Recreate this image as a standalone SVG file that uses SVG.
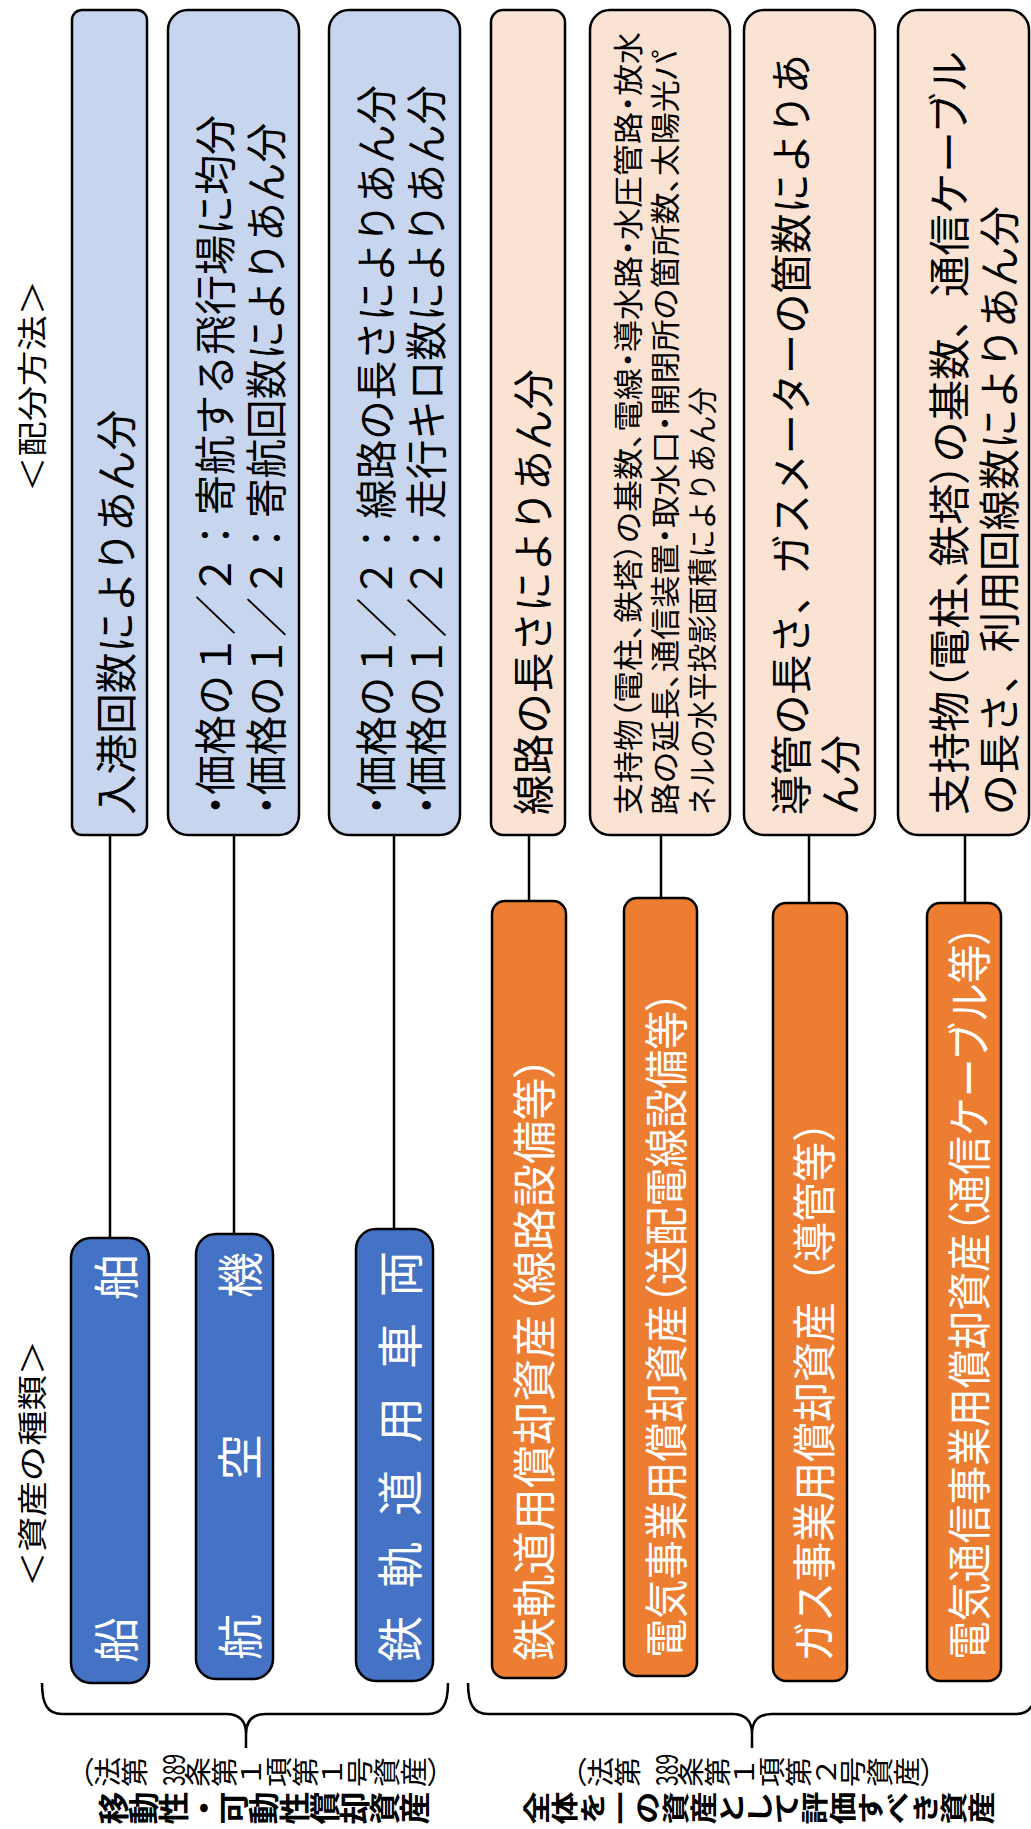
<svg xmlns="http://www.w3.org/2000/svg" width="1031" height="1829" viewBox="0 0 1031 1829">
<style>
  text { font-family: "Noto Sans CJK JP", "Noto Sans", sans-serif; dominant-baseline: central; }
  .box { stroke: #000; stroke-width: 2.5; }
  .lb { fill: #C7D6EE; }
  .lo { fill: #FBE3D4; }
  .db { fill: #4472C4; }
  .do { fill: #ED7D31; }
  .t42 { font-size: 42px; fill: #000; }
  .t30 { font-size: 30px; fill: #000; }
  .w46 { font-size: 46px; fill: #fff; text-anchor: middle; }
  .w44 { font-size: 44px; fill: #fff; }
  .side { font-size: 30px; fill: #000; }
  .vsm { font-size: 30px; fill: #000; writing-mode: vertical-rl; }
  .vbd { font-size: 33px; fill: #000; font-weight: 700; writing-mode: vertical-rl; }
  .num { font-size: 31px; fill: #000; text-anchor: middle; }
  .p { font-feature-settings: "palt"; }
  .conn line, .conn path { stroke: #000; stroke-width: 2.5; fill: none; }
</style>

<g id="label-haibun">
  <text class="side" transform="rotate(-90)" x="-492" y="30" textLength="212" lengthAdjust="spacingAndGlyphs">＜配分方法＞</text>
</g>
<g id="label-shurui">
  <text class="side" transform="rotate(-90)" x="-1587" y="30" textLength="247" lengthAdjust="spacingAndGlyphs">＜資産の種類＞</text>
</g>

<g class="conn" id="connectors">
  <line x1="110" y1="835" x2="110" y2="1238"/>
  <line x1="234" y1="835" x2="234" y2="1234"/>
  <line x1="394" y1="835" x2="394" y2="1229"/>
  <line x1="529" y1="835" x2="529" y2="901"/>
  <line x1="661" y1="835" x2="661" y2="898"/>
  <line x1="809" y1="835" x2="809" y2="903"/>
  <line x1="965" y1="835" x2="965" y2="903"/>
  <path d="M42,1683 C42,1705 48,1714 62,1714 L226,1714 Q246,1714 246,1734 L246,1748 M246,1734 Q246,1714 266,1714 L428,1714 C442,1714 448,1705 448,1683"/>
  <path d="M468,1683 C468,1705 474,1714 488,1714 L732,1714 Q752,1714 752,1734 L752,1748 M752,1734 Q752,1714 772,1714 L1016,1714 C1030,1714 1036,1705 1036,1683"/>
</g>

<g id="m-nyuko">
  <rect class="box lb" x="72" y="10" width="75" height="825" rx="10"/>
  <text class="t42" transform="rotate(-90)" x="-815" y="113" textLength="405" lengthAdjust="spacingAndGlyphs">入港回数によりあん分</text>
</g>
<g id="m-kouku">
  <rect class="box lb" x="168" y="10" width="131" height="825" rx="20"/>
  <text class="t42" transform="rotate(-90)" x="-815" y="212" textLength="700" lengthAdjust="spacingAndGlyphs"><tspan class="p">・</tspan>価格の１／２：寄航する飛行場に均分</text>
  <text class="t42" transform="rotate(-90)" x="-815" y="263" textLength="692" lengthAdjust="spacingAndGlyphs"><tspan class="p">・</tspan>価格の１／２：寄航回数によりあん分</text>
</g>
<g id="m-sharyo">
  <rect class="box lb" x="329" y="10" width="131" height="825" rx="20"/>
  <text class="t42" transform="rotate(-90)" x="-815" y="373" textLength="730" lengthAdjust="spacingAndGlyphs"><tspan class="p">・</tspan>価格の１／２：線路の長さによりあん分</text>
  <text class="t42" transform="rotate(-90)" x="-815" y="423" textLength="730" lengthAdjust="spacingAndGlyphs"><tspan class="p">・</tspan>価格の１／２：走行キロ数によりあん分</text>
</g>
<g id="m-senro">
  <rect class="box lo" x="491" y="10" width="74" height="825" rx="12"/>
  <text class="t42" transform="rotate(-90)" x="-815" y="530" textLength="446" lengthAdjust="spacingAndGlyphs">線路の長さによりあん分</text>
</g>
<g id="m-denki">
  <rect class="box lo" x="590" y="10" width="140" height="825" rx="20"/>
  <text class="t30 p" transform="rotate(-90)" x="-815" y="626" textLength="783" lengthAdjust="spacingAndGlyphs">支持物（電柱、鉄塔）の基数、電線・導水路・水圧管路・放水</text>
  <text class="t30 p" transform="rotate(-90)" x="-815" y="663" textLength="765" lengthAdjust="spacingAndGlyphs">路の延長、通信装置・取水口・開閉所の箇所数、太陽光パ</text>
  <text class="t30" transform="rotate(-90)" x="-815" y="700" textLength="428" lengthAdjust="spacingAndGlyphs">ネルの水平投影面積によりあん分</text>
</g>
<g id="m-gas">
  <rect class="box lo" x="744" y="10" width="131" height="825" rx="20"/>
  <text class="t42" transform="rotate(-90)" x="-815" y="788" textLength="761" lengthAdjust="spacingAndGlyphs">導管の長さ、ガスメーターの箇数によりあ</text>
  <text class="t42" transform="rotate(-90)" x="-815" y="837" textLength="80" lengthAdjust="spacingAndGlyphs">ん分</text>
</g>
<g id="m-tsushin">
  <rect class="box lo" x="898" y="10" width="131" height="825" rx="20"/>
  <text class="t42" transform="rotate(-90)" x="-815" y="946" textLength="764" lengthAdjust="spacingAndGlyphs">支持物<tspan class="p">（</tspan>電柱<tspan class="p">、</tspan>鉄塔<tspan class="p">）</tspan>の基数、通信ケーブル</text>
  <text class="t42" transform="rotate(-90)" x="-815" y="996" textLength="609" lengthAdjust="spacingAndGlyphs">の長さ、利用回線数によりあん分</text>
</g>

<g id="a-senpaku">
  <rect class="box db" x="71" y="1238" width="78" height="445" rx="20"/>
  <text class="w46" transform="rotate(-90)" y="113"><tspan x="-1640">船</tspan><tspan x="-1277">舶</tspan></text>
</g>
<g id="a-kokuki">
  <rect class="box db" x="196" y="1234" width="77" height="445" rx="20"/>
  <text class="w46" transform="rotate(-90)" y="237"><tspan x="-1637">航</tspan><tspan x="-1457">空</tspan><tspan x="-1275">機</tspan></text>
</g>
<g id="a-sharyo">
  <rect class="box db" x="356" y="1229" width="77" height="452" rx="20"/>
  <text class="w46" transform="rotate(-90)" y="397"><tspan x="-1639">鉄</tspan><tspan x="-1565">軌</tspan><tspan x="-1493">道</tspan><tspan x="-1420">用</tspan><tspan x="-1346">車</tspan><tspan x="-1274">両</tspan></text>
</g>
<g id="a-senro">
  <rect class="box do" x="492" y="901" width="74" height="777" rx="13"/>
  <text class="w44" transform="rotate(-90)" x="-1661" y="532" textLength="605" lengthAdjust="spacingAndGlyphs">鉄軌道用償却資産<tspan class="p">（</tspan>線路設備等<tspan class="p">）</tspan></text>
</g>
<g id="a-denki">
  <rect class="box do" x="624" y="898" width="73" height="778" rx="13"/>
  <text class="w44" transform="rotate(-90)" x="-1658" y="664" textLength="667" lengthAdjust="spacingAndGlyphs">電気事業用償却資産<tspan class="p">（</tspan>送配電線設備等<tspan class="p">）</tspan></text>
</g>
<g id="a-gas">
  <rect class="box do" x="773" y="903" width="74" height="778" rx="13"/>
  <text class="w44" transform="rotate(-90)" x="-1662" y="812" textLength="560" lengthAdjust="spacingAndGlyphs">ガス事業用償却資産（導管等）</text>
</g>
<g id="a-tsushin">
  <rect class="box do" x="927" y="903" width="74" height="778" rx="13"/>
  <text class="w44" transform="rotate(-90)" x="-1660" y="967" textLength="735" lengthAdjust="spacingAndGlyphs">電気通信事業用償却資産<tspan class="p">（</tspan>通信ケーブル等<tspan class="p">）</tspan></text>
</g>

<g id="group-1">
  <text class="vsm" transform="rotate(-90)" x="-1772" y="67" textLength="81" lengthAdjust="spacingAndGlyphs">（法第</text>
  <text class="num" transform="rotate(-90)" x="-1770" y="171" textLength="32" lengthAdjust="spacingAndGlyphs">389</text>
  <text class="vsm" transform="rotate(-90)" x="-1772" y="184" textLength="270" lengthAdjust="spacingAndGlyphs">条第１項第１号資産）</text>
  <text class="vbd" transform="rotate(-90)" x="-1808" y="98" textLength="332" lengthAdjust="spacingAndGlyphs">移動性・可動性償却資産</text>
</g>
<g id="group-2">
  <text class="vsm" transform="rotate(-90)" x="-1772" y="560" textLength="81" lengthAdjust="spacingAndGlyphs">（法第</text>
  <text class="num" transform="rotate(-90)" x="-1770" y="664" textLength="32" lengthAdjust="spacingAndGlyphs">389</text>
  <text class="vsm" transform="rotate(-90)" x="-1772" y="677" textLength="270" lengthAdjust="spacingAndGlyphs">条第１項第２号資産）</text>
  <text class="vbd" transform="rotate(-90)" x="-1808" y="523" textLength="472" lengthAdjust="spacingAndGlyphs">全体を一の資産として評価すべき資産</text>
</g>
</svg>
